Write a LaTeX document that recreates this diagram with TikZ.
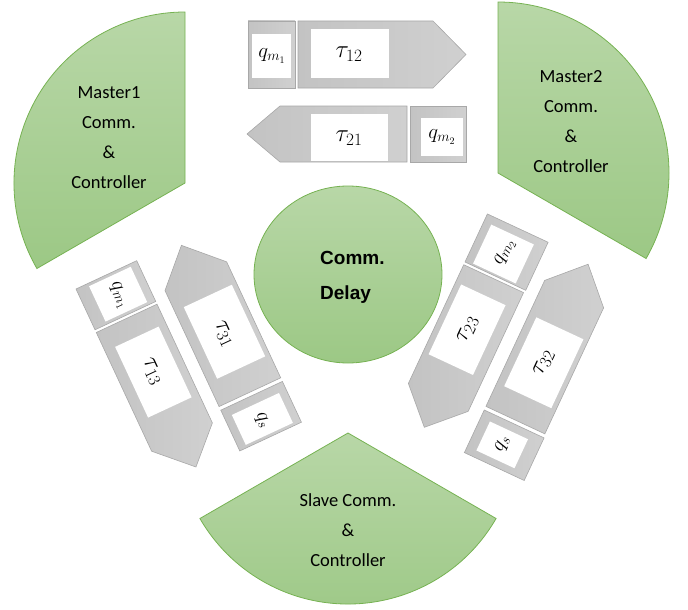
\documentclass[tikz,border=0pt]{standalone}
\usepackage[no-math]{fontspec}
\setmainfont{Carlito}
\newfontfamily\arialf{Liberation Sans}
\usetikzlibrary{shapes.geometric}
\definecolor{gtop}{RGB}{184,215,167}
\definecolor{gbot}{RGB}{156,200,133}
\definecolor{gline}{RGB}{118,178,82}
\definecolor{gyA}{RGB}{195,195,195}
\definecolor{gyB}{RGB}{208,208,208}
\definecolor{gyline}{RGB}{168,168,168}
\tikzset{
  pie/.style={draw=gline, line width=0.8pt, top color=gtop, bottom color=gbot},
  grayshape/.style={draw=gyline, line width=0.6pt, left color=gyA, right color=gyB},
  whitebox/.style={fill=white},
  pietext/.style={align=center, inner sep=0pt, font=\fontsize{18.5}{30}\selectfont},
  taulab/.style={inner sep=0pt, font=\fontsize{25}{30}\selectfont},
  qlab/.style={inner sep=0pt, font=\fontsize{20}{24}\selectfont},
}
\begin{document}
\begin{tikzpicture}[x=1pt, y=-1pt]
\useasboundingbox (0,0) rectangle (688,610);
% green sectors
\draw[pie] (185,183) -- ++(150:171) arc[start angle=150, end angle=270, radius=171] -- cycle;
\draw[pie] (498,173) -- ++(270:171) arc[start angle=270, end angle=390, radius=171] -- cycle;
\draw[pie] (348,433) -- ++(30:171) arc[start angle=30, end angle=150, radius=171] -- cycle;
\node[pietext] (m1) at (109,137.5) {Master1\\Comm.\\\&\\Controller};
\node[pietext] (m2) at (571,122) {Master2\\Comm.\\\&\\Controller};
\node[pietext] (sl) at (348,530.5) {Slave Comm.\\\&\\Controller};
% central delay
\node[ellipse, pie, minimum width=188pt, minimum height=177pt, inner sep=0pt] (delay) at (348,274.5) {};
\node[anchor=west, align=left, inner sep=0pt, font=\arialf\bfseries\fontsize{19}{35}\selectfont] (delaytxt) at (320,277) {Comm.\\Delay};
% top group
\draw[grayshape] (248,21) rectangle (295,88);
\fill[whitebox] (252,34) rectangle (291,78);
\node[qlab] (qa) at (272,56) {$q_{m_1}$};
\draw[grayshape] (298,21) -- (433,21) -- (466,54.5) -- (433,88) -- (298,88) -- cycle;
\fill[whitebox] (311,29) rectangle (389,78);
\node[taulab] (t12) at (349,54) {$\tau_{12}$};
\draw[grayshape] (247,134) -- (280,106) -- (407,106) -- (407,162) -- (280,162) -- cycle;
\fill[whitebox] (311,114) rectangle (388,161);
\node[taulab] (t21) at (349,138) {$\tau_{21}$};
\draw[grayshape] (410,106) rectangle (466,162);
\fill[whitebox] (421,118) rectangle (463,156);
\node[qlab] (qb) at (442,137) {$q_{m_2}$};
% left group
\begin{scope}[shift={(76,289)}, rotate=-65]
\draw[grayshape] (0,-67) rectangle (45,0);
\fill[whitebox] (3,-59) rectangle (42,-13);
\node[qlab, rotate=-65] (qc) at (24,-36) {$q_{m_1}$};
\draw[grayshape] (48,-67) -- (179,-67) -- (212,-33.5) -- (179,0) -- (48,0) -- cycle;
\fill[whitebox] (69,-59) rectangle (147,-11);
\node[taulab, rotate=-65] (t13) at (107,-34) {$\tau_{13}$};
\draw[grayshape] (5,-114) -- (39,-148) -- (167,-148) -- (167,-80) -- (39,-80) -- cycle;
\fill[whitebox] (62,-143) rectangle (141,-90);
\node[taulab, rotate=-65] (t31) at (103,-115) {$\tau_{31}$};
\draw[grayshape] (171,-148) rectangle (216,-80);
\fill[whitebox] (180,-140) rectangle (213,-88);
\node[qlab, rotate=-65] (qd) at (198,-113) {$q_{s}$};
\end{scope}
% right group
\begin{scope}[shift={(465,262)}, rotate=65]
\draw[grayshape] (0,0) rectangle (53,67);
\fill[whitebox] (2,8) rectangle (45,55);
\node[qlab, rotate=65] (qe) at (26,32) {$q_{m_2}$};
\draw[grayshape] (-3,0) -- (-3,66) -- (-134,66) -- (-167,33) -- (-134,0) -- cycle;
\fill[whitebox] (-99,6) rectangle (-22,55);
\node[taulab, rotate=65] (t23) at (-60,31) {$\tau_{23}$};
\draw[grayshape] (-122,80) -- (17,80) -- (50,112.5) -- (17,145) -- (-122,145) -- cycle;
\fill[whitebox] (-96,88) rectangle (-20,140);
\node[taulab, rotate=65] (t32) at (-58,114) {$\tau_{32}$};
\draw[grayshape] (-173,80) rectangle (-126,146);
\fill[whitebox] (-166,90) rectangle (-134,132);
\node[qlab, rotate=65] (qf) at (-149,111) {$q_{s}$};
\end{scope}
\end{tikzpicture}
\end{document}
